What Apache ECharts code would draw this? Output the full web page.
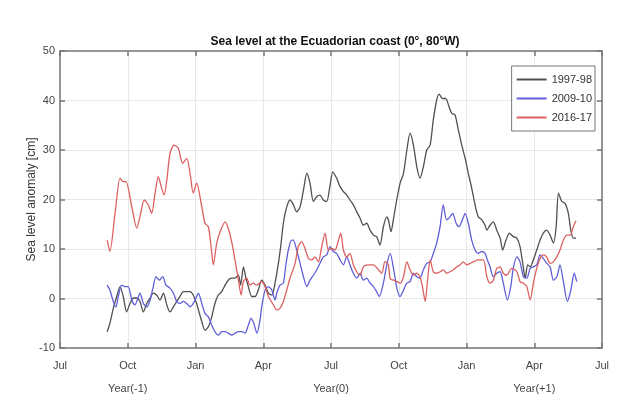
<!DOCTYPE html>
<html>
<head>
<meta charset="utf-8">
<script src="https://cdn.jsdelivr.net/npm/echarts@6/dist/echarts.min.js"></script>
<style>html,body{margin:0;padding:0;background:#fff}#c{width:626px;height:407px}</style>
</head>
<body>
<div id="c"></div>
<script>
// Time axis: months since 1 July of Year(-1)
var monthLabels = ['Jul','Oct','Jan','Apr','Jul','Oct','Jan','Apr','Jul'];
var yearLabels  = ['','Year(-1)','','','Year(0)','','','Year(+1)',''];
var seriesNames = ['1997-98','2009-10','2016-17'];

var t9798 = [2.09,2.21,2.36,2.51,2.66,2.80,2.95,3.10,3.25,3.40,3.54,3.69,3.84,3.99,4.13,4.28,4.43,4.58,4.73,4.87,5.02,5.17,5.31,5.46,5.61,5.76,5.90,6.05,6.13,6.28,6.42,6.57,6.72,6.86,7.01,7.16,7.31,7.45,7.60,7.75,7.90,8.00,8.12,8.22,8.34,8.49,8.64,8.78,8.93,9.08,9.23,9.38,9.52,9.67,9.79,9.89,10.04,10.19,10.34,10.48,10.63,10.78,10.93,11.07,11.22,11.37,11.51,11.66,11.81,11.96,12.08,12.25,12.40,12.55,12.70,12.84,12.99,13.14,13.29,13.43,13.58,13.73,13.88,14.02,14.17,14.32,14.47,14.54,14.66,14.76,14.91,15.06,15.21,15.36,15.50,15.65,15.80,15.94,16.09,16.24,16.39,16.53,16.68,16.79,16.93,17.08,17.23,17.35,17.49,17.64,17.79,17.94,18.08,18.23,18.38,18.52,18.68,18.82,18.90,19.04,19.19,19.34,19.49,19.60,19.75,19.90,20.07,20.23,20.37,20.49,20.60,20.71,20.82,20.96,21.11,21.26,21.40,21.55,21.70,21.85,21.97,22.07,22.22,22.37,22.51,22.62,22.73,22.85];
var v9798 = [-6.7,-5.0,-2.0,0.4,2.4,0.4,-2.7,-1.0,0.1,0.1,-0.6,-2.7,-1.0,0.1,1.1,0.7,-0.3,1.1,-1.3,-2.7,-1.7,-0.6,0.4,1.4,1.4,1.4,0.7,-1.0,-2.3,-4.7,-6.4,-5.7,-3.7,-1.0,0.7,1.4,2.7,3.7,4.1,4.1,4.7,2.7,6.4,4.4,2.4,0.4,0.4,1.7,3.7,2.7,1.1,0.7,3.1,7.1,11.2,15.2,18.5,19.9,18.9,17.5,18.5,21.9,25.3,23.3,19.6,20.6,20.9,19.9,19.6,22.9,25.6,24.3,22.6,21.6,20.9,19.9,18.9,17.5,16.2,14.8,15.2,13.8,12.8,12.5,10.8,14.5,16.5,15.9,13.5,15.9,19.9,23.3,25.3,30.0,33.4,31.0,26.6,24.3,26.6,30.0,31.0,36.1,40.1,41.3,40.4,40.4,38.7,37.4,37.1,34.0,31.0,28.3,25.3,22.3,18.9,16.5,15.9,14.8,13.8,14.8,15.5,13.8,12.2,9.8,11.8,13.2,12.5,12.2,10.5,7.1,4.1,6.8,6.4,7.8,9.8,11.8,13.2,13.8,12.8,11.2,14.5,21.3,19.6,19.2,17.2,13.8,12.2,12.2];

var t0910 = [2.09,2.21,2.36,2.48,2.58,2.73,2.88,3.02,3.18,3.32,3.42,3.54,3.69,3.84,3.99,4.13,4.25,4.40,4.55,4.69,4.87,5.02,5.17,5.31,5.46,5.61,5.76,5.90,6.05,6.13,6.28,6.42,6.57,6.72,6.86,7.01,7.16,7.31,7.45,7.60,7.75,7.90,8.05,8.19,8.34,8.46,8.58,8.72,8.86,8.93,9.08,9.23,9.38,9.52,9.60,9.74,9.89,9.99,10.11,10.26,10.33,10.48,10.63,10.78,10.93,11.07,11.22,11.37,11.51,11.66,11.81,11.96,12.10,12.25,12.40,12.55,12.70,12.84,12.99,13.14,13.29,13.43,13.58,13.73,13.88,14.02,14.14,14.32,14.47,14.62,14.77,14.92,15.06,15.21,15.36,15.50,15.65,15.80,15.94,16.09,16.24,16.39,16.53,16.68,16.83,16.97,17.12,17.27,17.39,17.54,17.67,17.82,17.94,18.08,18.23,18.38,18.52,18.68,18.82,18.90,19.04,19.19,19.34,19.49,19.63,19.81,19.96,20.07,20.23,20.37,20.52,20.67,20.82,20.96,21.11,21.26,21.40,21.55,21.70,21.85,22.00,22.14,22.29,22.47,22.62,22.77,22.88];
var v0910 = [2.7,1.7,-0.6,-1.7,0.4,2.7,2.4,2.4,-0.3,-1.3,-0.3,1.1,-1.0,-1.7,-0.3,2.4,4.4,3.7,4.4,2.7,2.1,1.1,-0.6,-1.0,-0.6,-1.0,-1.7,-1.0,0.4,1.1,-1.0,-3.0,-3.7,-5.4,-6.7,-7.4,-6.7,-6.7,-7.0,-7.4,-7.0,-6.7,-6.7,-7.0,-5.4,-4.0,-5.0,-7.0,-4.3,-1.7,1.7,2.4,1.7,-0.3,1.1,2.7,3.1,6.4,9.8,11.8,11.8,9.8,7.1,4.4,2.4,3.7,4.7,5.8,7.1,8.4,8.8,10.5,9.5,9.1,7.8,6.8,8.4,6.8,5.1,4.1,5.1,3.7,4.1,3.1,2.4,1.4,0.4,3.1,6.8,9.1,6.0,2.0,0.4,1.7,3.1,3.4,5.1,4.4,4.1,5.8,7.1,7.4,9.1,11.2,14.5,18.9,15.9,16.5,17.2,15.2,14.5,15.9,17.2,15.2,11.8,9.8,9.1,9.5,9.1,8.1,6.4,4.4,5.1,5.4,3.1,-0.3,2.4,6.1,8.4,7.4,4.4,4.1,6.1,6.4,6.8,8.8,8.1,7.1,6.4,3.7,4.4,6.8,3.4,-0.6,1.7,5.1,3.4];

var t1617 = [2.09,2.21,2.44,2.66,2.80,2.92,3.18,3.40,3.54,3.73,3.91,4.06,4.21,4.35,4.50,4.61,4.73,4.87,5.05,5.24,5.43,5.61,5.76,5.90,6.05,6.28,6.42,6.57,6.69,6.79,6.94,7.09,7.31,7.45,7.60,7.75,7.90,8.02,8.12,8.27,8.41,8.56,8.71,8.93,9.08,9.23,9.45,9.60,9.74,9.89,10.04,10.19,10.41,10.55,10.70,10.85,11.00,11.15,11.29,11.44,11.59,11.74,11.88,12.03,12.18,12.33,12.43,12.55,12.70,12.84,12.99,13.14,13.29,13.43,13.65,13.88,14.10,14.25,14.39,14.54,14.62,14.77,14.92,15.07,15.21,15.36,15.50,15.65,15.80,15.94,16.05,16.17,16.29,16.39,16.53,16.68,16.83,16.97,17.12,17.27,17.42,17.57,17.72,17.86,18.01,18.16,18.30,18.52,18.75,18.90,19.04,19.19,19.34,19.49,19.63,19.78,20.00,20.23,20.37,20.52,20.67,20.82,20.96,21.11,21.26,21.40,21.55,21.70,21.85,22.00,22.14,22.29,22.44,22.59,22.73,22.85];
var v1617 = [11.8,9.5,17.3,24.3,23.6,23.6,18.5,14.2,16.5,19.9,18.9,17.2,21.3,24.6,22.3,20.9,23.9,29.3,31.0,30.3,27.3,28.3,25.3,21.3,23.3,18.5,15.2,14.5,10.5,6.8,11.2,13.5,15.5,14.2,11.5,7.8,3.7,0.7,3.4,4.1,2.7,3.1,2.7,3.4,2.4,0.4,-1.3,-2.3,-2.0,-0.6,1.7,4.2,7.1,10.5,11.5,10.1,8.1,7.8,8.4,7.4,10.5,13.2,9.8,10.1,9.8,11.8,13.2,9.8,8.4,9.1,6.8,5.4,4.7,6.4,6.8,6.8,5.8,5.1,7.5,6.8,4.0,3.7,3.4,3.1,4.4,7.4,5.8,4.7,5.1,4.4,2.4,-0.6,4.4,7.8,5.4,5.1,5.4,5.8,5.1,5.4,5.8,6.4,6.8,7.4,6.8,7.1,7.4,7.8,7.8,4.4,3.1,3.7,6.1,6.4,5.1,4.7,6.1,5.4,3.4,3.1,2.4,-0.3,3.1,6.1,8.1,8.8,8.4,7.1,7.4,8.4,9.8,11.8,12.8,12.8,14.5,15.7];

function zip(t, v) { return t.map(function (x, i) { return [x, v[i]]; }); }

var FONT = 'Liberation Sans, Arial, sans-serif';
var axisCol = '#777';
var chart = echarts.init(document.getElementById('c'), null, {renderer: 'canvas'});

var option = {
  animation: false,
  backgroundColor: '#fff',
  title: {
    text: 'Sea level at the Ecuadorian coast (0°, 80°W)',
    left: 330, top: 31, textAlign: 'center',
    textStyle: {fontFamily: FONT, fontSize: 12, fontWeight: 'bold', color: '#111'}
  },
  legend: {
    orient: 'vertical', right: 31, top: 66,
    data: seriesNames,
    icon: 'rect',
    itemWidth: 30, itemHeight: 2, itemGap: 8,
    padding: [8, 3, 8, 5],
    borderColor: '#777', borderWidth: 1, backgroundColor: '#fff',
    textStyle: {fontFamily: FONT, fontSize: 11, color: '#333'}
  },
  grid: {left: 60, right: 24, top: 51, bottom: 59, containLabel: false},
  xAxis: [{
    type: 'value', min: 0, max: 24, interval: 3,
    axisLine: {show: true, onZero: false, lineStyle: {color: axisCol, width: 1.5}},
    axisTick: {show: true, inside: true, length: 5, lineStyle: {color: axisCol, width: 1.5}},
    splitLine: {show: true, lineStyle: {color: '#e8e8e8', width: 1}},
    axisLabel: {
      margin: 12, fontFamily: FONT, fontSize: 11, color: '#444', lineHeight: 11.5,
      formatter: function (val) {
        var i = Math.round(val / 3);
        return yearLabels[i] ? monthLabels[i] + '\n\n' + yearLabels[i] : monthLabels[i];
      }
    }
  }, {
    type: 'value', position: 'top', min: 0, max: 24, interval: 3,
    axisLine: {show: true, onZero: false, lineStyle: {color: axisCol, width: 1.5}},
    axisTick: {show: true, inside: true, length: 5, lineStyle: {color: axisCol, width: 1.5}},
    axisLabel: {show: false}, splitLine: {show: false}
  }],
  yAxis: [{
    type: 'value', min: -10, max: 50, interval: 10,
    name: 'Sea level anomaly [cm]', nameLocation: 'middle', nameGap: 22, nameRotate: 90,
    nameMoveOverlap: false,
    nameTextStyle: {fontFamily: FONT, fontSize: 12, color: '#333'},
    axisLine: {show: true, onZero: false, lineStyle: {color: axisCol, width: 1.5}},
    axisTick: {show: true, inside: true, length: 5, lineStyle: {color: axisCol, width: 1.5}},
    splitLine: {show: true, lineStyle: {color: '#e8e8e8', width: 1}},
    axisLabel: {margin: 5, fontFamily: FONT, fontSize: 11, color: '#444'}
  }, {
    type: 'value', position: 'right', min: -10, max: 50, interval: 10,
    axisLine: {show: true, onZero: false, lineStyle: {color: axisCol, width: 1.5}},
    axisTick: {show: true, inside: true, length: 5, lineStyle: {color: axisCol, width: 1.5}},
    axisLabel: {show: false}, splitLine: {show: false}
  }],
  series: [
    {name: seriesNames[0], type: 'line', data: zip(t9798, v9798), symbol: 'none', smooth: 0.25,
     lineStyle: {color: '#505050', width: 1.3}, itemStyle: {color: '#505050'}},
    {name: seriesNames[1], type: 'line', data: zip(t0910, v0910), symbol: 'none', smooth: 0.25,
     lineStyle: {color: '#5f5fd8', width: 1.3}, itemStyle: {color: '#5f5fd8'}},
    {name: seriesNames[2], type: 'line', data: zip(t1617, v1617), symbol: 'none', smooth: 0.25,
     lineStyle: {color: '#dd6060', width: 1.3}, itemStyle: {color: '#dd6060'}}
  ]
};
chart.setOption(option);
</script>
</body>
</html>
